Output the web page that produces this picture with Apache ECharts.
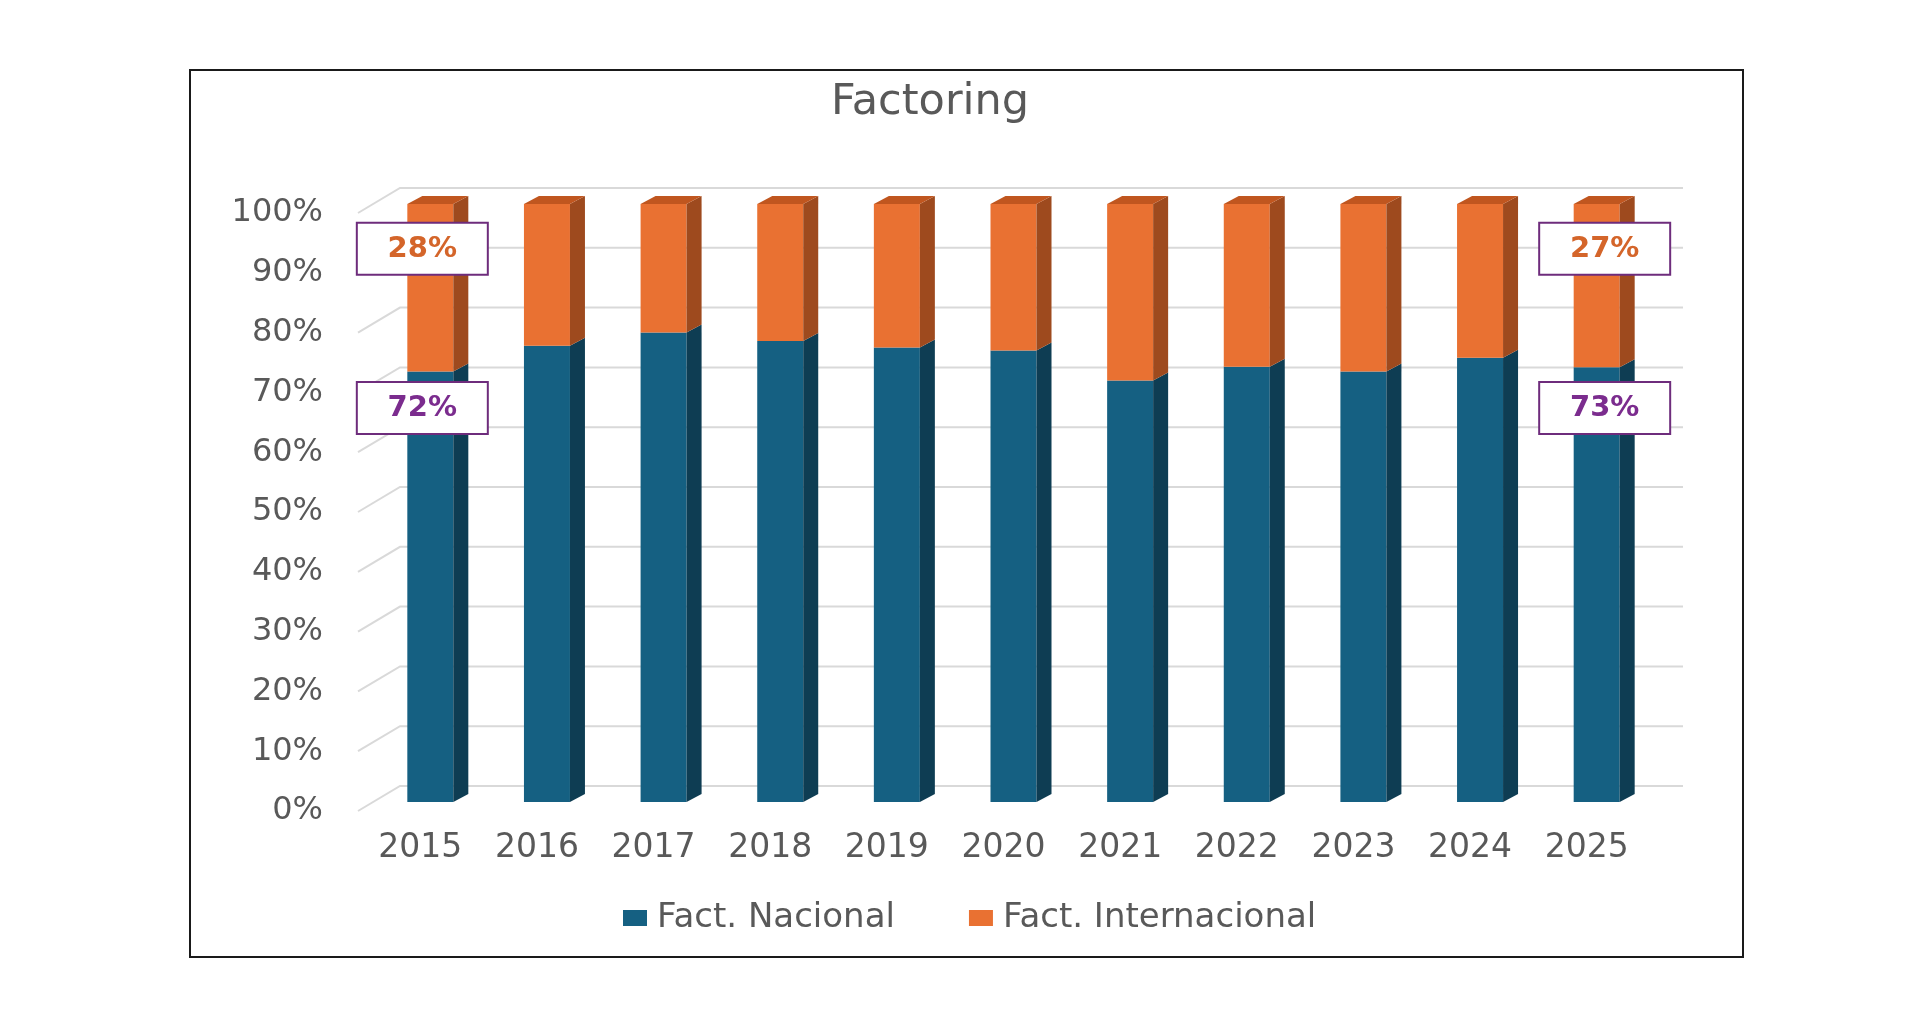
<!DOCTYPE html>
<html>
<head>
<meta charset="utf-8">
<script src="https://cdn.jsdelivr.net/npm/echarts@6/dist/echarts.min.js"></script>
<style>
html,body{margin:0;padding:0;background:#fff;}
#chart{width:1920px;height:1024px;}
</style>
</head>
<body>
<div id="chart"></div>
<script>
// ---- data ----
const years = ['2015','2016','2017','2018','2019','2020','2021','2022','2023','2024','2025'];
const nacional = [72.0, 76.3, 78.5, 77.1, 76.0, 75.5, 70.5, 72.8, 72.0, 74.3, 72.7];
const internacional = [28.0, 23.7, 21.5, 22.9, 24.0, 24.5, 29.5, 27.2, 28.0, 25.7, 27.3];
const yTicks = [0, 10, 20, 30, 40, 50, 60, 70, 80, 90, 100];
const labelledYears = ['2015', '2025'];
const seriesNames = ['Fact. Nacional', 'Fact. Internacional'];

// ---- style ----
const BLUE = '#156082', BLUE_SIDE = '#0e3d53';
const ORANGE = '#E97132', ORANGE_SIDE = '#9e4a1e', ORANGE_TOP = '#c0561f';
const BAR_W = 46, DX = 15, DY = 8;
const FONT = '"DejaVu Sans", Verdana, sans-serif';

function box3d(api, fill, side, top) {
  const i = api.value(0), lo = api.value(1), hi = api.value(2);
  const pLo = api.coord([i, lo]);
  const pHi = api.coord([i, hi]);
  const xl = pLo[0] - BAR_W / 2, xr = pLo[0] + BAR_W / 2;
  const children = [
    {type: 'rect', shape: {x: xl, y: pHi[1], width: BAR_W, height: pLo[1] - pHi[1]}, style: {fill: fill}},
    {type: 'polygon', shape: {points: [[xr, pHi[1]], [xr + DX, pHi[1] - DY], [xr + DX, pLo[1] - DY], [xr, pLo[1]]]}, style: {fill: side}}
  ];
  if (top) {
    children.push({type: 'polygon', shape: {points: [[xl, pHi[1]], [xl + DX, pHi[1] - DY], [xr + DX, pHi[1] - DY], [xr, pHi[1]]]}, style: {fill: top}});
  }
  return {type: 'group', children: children};
}

const chart = echarts.init(document.getElementById('chart'));
const option = {
  backgroundColor: '#fff',
  animation: false,
  title: {
    text: 'Factoring',
    left: 925, top: 76, textAlign: 'center',
    textStyle: {fontFamily: FONT, fontSize: 43, fontWeight: 'normal', color: '#595959'}
  },
  legend: {
    data: seriesNames,
    left: 618, top: 896,
    itemWidth: 24, itemHeight: 16, itemGap: 74,
    icon: 'rect',
    textStyle: {fontFamily: FONT, fontSize: 34, color: '#595959', padding: [0, 0, 0, 5]}
  },
  graphic: [{
    type: 'rect', shape: {x: 190, y: 70, width: 1553, height: 887},
    style: {fill: 'none', stroke: '#1a1a1a', lineWidth: 2}, z: 100
  }],
  grid: {left: 372, right: 265, top: 204, bottom: 222},
  xAxis: {
    type: 'category', data: years,
    axisLine: {show: false}, axisTick: {show: false},
    axisLabel: {fontFamily: FONT, fontSize: 33, color: '#595959', margin: 30, padding: [0, 20, 0, 0]}
  },
  yAxis: {
    type: 'value', min: 0, max: 100, interval: 10,
    axisLine: {show: false}, axisTick: {show: false}, splitLine: {show: false},
    axisLabel: {fontFamily: FONT, fontSize: 32, color: '#595959', margin: 49,
      verticalAlign: 'top', lineHeight: 18,
      formatter: v => v + '%'}
  },
  series: [
    {
      type: 'custom', name: 'walls', silent: true, z: 1,
      data: yTicks.map(v => [0, v]),
      encode: {x: 0, y: 1},
      renderItem: (params, api) => {
        const cs = params.coordSys;
        const y = api.coord([0, api.value(1)])[1];
        return {type: 'polyline', shape: {points: [
          [cs.x - 14, y + 9], [cs.x + 28, y - 16], [cs.x + cs.width + 28, y - 16]
        ]}, style: {stroke: '#d9d9d9', lineWidth: 2, fill: 'none'}};
      }
    },
    {
      type: 'custom', name: seriesNames[0], z: 2,
      itemStyle: {color: BLUE},
      data: nacional.map((v, i) => [i, 0, v]),
      encode: {x: 0, y: [1, 2]},
      renderItem: (params, api) => box3d(api, BLUE, BLUE_SIDE, null)
    },
    {
      type: 'custom', name: seriesNames[1], z: 2,
      itemStyle: {color: ORANGE},
      data: internacional.map((v, i) => [i, nacional[i], nacional[i] + v]),
      encode: {x: 0, y: [1, 2]},
      renderItem: (params, api) => box3d(api, ORANGE, ORANGE_SIDE, ORANGE_TOP)
    },
    {
      type: 'custom', name: 'labels', z: 5, silent: true,
      data: labelledYears.map(y => [years.indexOf(y)]),
      encode: {x: 0},
      renderItem: (params, api) => {
        const i = api.value(0);
        const shift = i === 0 ? -8 : 8;
        const boxes = [
          {anchor: 92.5, text: Math.round(internacional[i]) + '%', color: '#D4652A'},
          {anchor: 65.9, text: Math.round(nacional[i]) + '%', color: '#7B2C8E'}
        ];
        const children = [];
        boxes.forEach(b => {
          const p = api.coord([i, b.anchor]);
          const cx = p[0] + shift, cy = p[1];
          children.push({type: 'rect', shape: {x: cx - 65.5, y: cy - 26, width: 131, height: 52},
            style: {fill: '#fff', stroke: '#6e2c7c', lineWidth: 2}});
          children.push({type: 'text', x: cx, y: cy + 1, style: {text: b.text, fill: b.color,
            font: 'bold 29px ' + FONT, align: 'center', verticalAlign: 'middle'}});
        });
        return {type: 'group', children: children};
      }
    }
  ]
};
chart.setOption(option);
</script>
</body>
</html>
